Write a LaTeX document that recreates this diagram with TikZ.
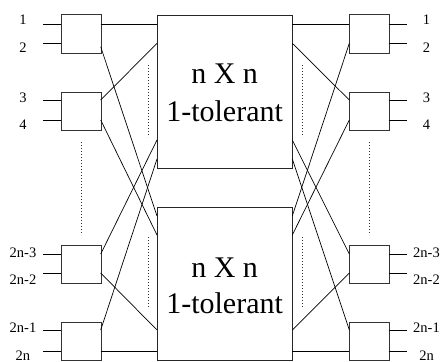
\documentclass[tikz,border=0pt]{standalone}
\usepackage{fontspec}
\setmainfont{Liberation Serif}
\begin{document}
\begin{tikzpicture}[x=1pt,y=-1pt,
  wire/.style={line width=0.7pt,black},
  sbox/.style={draw=black!80,line width=0.8pt,fill=white,minimum width=39.4pt,minimum height=38.4pt,inner sep=0pt,anchor=north west},
  bbox/.style={draw=black!85,line width=0.8pt,fill=white,minimum width=135.3pt,minimum height=153pt,inner sep=0pt,anchor=north west},
  dots/.style={line width=0.8pt,black!80,dash pattern=on 0.9pt off 2.1pt},
  lab/.style={font=\fontsize{14.5}{16}\selectfont,inner sep=0pt},
  big/.style={font=\fontsize{30}{34}\selectfont,inner sep=0pt}]
\useasboundingbox (0,0) rectangle (440,362);
% big boxes
\node[bbox] (T) at (157,15) {};
\node[bbox] (B) at (157,207) {};
\node[big] (t1) at (224.6,74) {n X n};
\node[big] (t2) at (224.6,111.7) {1-tolerant};
\node[big] (b1) at (224.6,267.5) {n X n};
\node[big] (b2) at (224.6,303) {1-tolerant};
% small boxes
\node[sbox] (L1) at (61.3,14.3) {};
\node[sbox] (L2) at (61.3,92) {};
\node[sbox] (L3) at (61.3,245) {};
\node[sbox] (L4) at (61.3,322) {};
\node[sbox] (R1) at (349.3,14.3) {};
\node[sbox] (R2) at (349.3,92) {};
\node[sbox] (R3) at (349.3,245) {};
\node[sbox] (R4) at (349.3,322) {};
% ports: left small boxes
\coordinate (L1i1) at (43,24.3);   \coordinate (L1w1) at (61.3,24.3);
\coordinate (L1i2) at (43,43.3);   \coordinate (L1w2) at (61.3,43.3);
\coordinate (L2i1) at (43,100);    \coordinate (L2w1) at (61.3,100);
\coordinate (L2i2) at (43,120);    \coordinate (L2w2) at (61.3,120);
\coordinate (L3i1) at (43,254);    \coordinate (L3w1) at (61.3,254);
\coordinate (L3i2) at (43,273);    \coordinate (L3w2) at (61.3,273);
\coordinate (L4i1) at (43,330);    \coordinate (L4w1) at (61.3,330);
\coordinate (L4i2) at (43,351);    \coordinate (L4w2) at (61.3,351);
\coordinate (L1o1) at (100.7,24.3); \coordinate (L1o2) at (100.7,46.7);
\coordinate (L2o1) at (100.7,100);  \coordinate (L2o2) at (100.7,120);
\coordinate (L3o1) at (100.7,254);  \coordinate (L3o2) at (100.7,273);
\coordinate (L4o1) at (100.7,330);  \coordinate (L4o2) at (100.7,351);
% ports: right small boxes
\coordinate (R1i1) at (349.3,24.3); \coordinate (R1i2) at (349.3,43.3);
\coordinate (R2i1) at (349.3,100);  \coordinate (R2i2) at (349.3,120);
\coordinate (R3i1) at (349.3,254);  \coordinate (R3i2) at (349.3,273);
\coordinate (R4i1) at (349.3,330);  \coordinate (R4i2) at (349.3,351);
\coordinate (R1w1) at (388.7,24.3); \coordinate (R1o1) at (407.3,24.3);
\coordinate (R1w2) at (388.7,43.3); \coordinate (R1o2) at (407.3,43.3);
\coordinate (R2w1) at (388.7,100);  \coordinate (R2o1) at (407.3,100);
\coordinate (R2w2) at (388.7,120);  \coordinate (R2o2) at (407.3,120);
\coordinate (R3w1) at (388.7,254);  \coordinate (R3o1) at (407.3,254);
\coordinate (R3w2) at (388.7,273);  \coordinate (R3o2) at (407.3,273);
\coordinate (R4w1) at (388.7,330);  \coordinate (R4o1) at (407.3,330);
\coordinate (R4w2) at (388.7,351);  \coordinate (R4o2) at (407.3,351);
% ports: big boxes
\coordinate (TL1) at (157,24.3);  \coordinate (TL2) at (157,43.3);
\coordinate (TL3) at (157,140);   \coordinate (TL4) at (157,159);
\coordinate (BL1) at (157,216);   \coordinate (BL2) at (157,235);
\coordinate (BL3) at (157,330);   \coordinate (BL4) at (157,351);
\coordinate (TR1) at (292.3,24.3); \coordinate (TR2) at (292.3,43.3);
\coordinate (TR3) at (292.3,140);  \coordinate (TR4) at (292.3,159);
\coordinate (BR1) at (292.3,216);  \coordinate (BR2) at (292.3,235);
\coordinate (BR3) at (292.3,330);  \coordinate (BR4) at (292.3,351);
% outer leads
\foreach \b in {1,2,3,4}{
  \draw[wire] (L\b i1) -- (L\b w1);
  \draw[wire] (L\b i2) -- (L\b w2);
  \draw[wire] (R\b w1) -- (R\b o1);
  \draw[wire] (R\b w2) -- (R\b o2);
}
% left interconnect
\draw[wire] (L1o1) -- (TL1);
\draw[wire] (L1o2) -- (BL1);
\draw[wire] (L2o1) -- (TL2);
\draw[wire] (L2o2) -- (BL2);
\draw[wire] (L3o1) -- (TL3);
\draw[wire] (L3o2) -- (BL3);
\draw[wire] (L4o1) -- (TL4);
\draw[wire] (L4o2) -- (BL4);
% right interconnect
\draw[wire] (TR1) -- (R1i1);
\draw[wire] (BR1) -- (R1i2);
\draw[wire] (TR2) -- (R2i1);
\draw[wire] (BR2) -- (R2i2);
\draw[wire] (TR3) -- (R3i1);
\draw[wire] (BR3) -- (R3i2);
\draw[wire] (TR4) -- (R4i1);
\draw[wire] (BR4) -- (R4i2);
% dotted lines
\coordinate (d1a) at (81,142);  \coordinate (d1b) at (81,235);
\coordinate (d2a) at (369,142); \coordinate (d2b) at (369,235);
\coordinate (d3a) at (148,65);  \coordinate (d3b) at (148,137);
\coordinate (d4a) at (148,237); \coordinate (d4b) at (148,308);
\coordinate (d5a) at (302,65);  \coordinate (d5b) at (302,137);
\coordinate (d6a) at (302,237); \coordinate (d6b) at (302,308);
\foreach \d in {1,...,6}{\draw[dots] (d\d a) -- (d\d b);}
% labels
\node[lab] (la1) at (23,20) {1};
\node[lab] (la2) at (23,48) {2};
\node[lab] (la3) at (23,97.5) {3};
\node[lab] (la4) at (23,125) {4};
\node[lab] (la5) at (23,253) {2n-3};
\node[lab] (la6) at (23,280) {2n-2};
\node[lab] (la7) at (23,328) {2n-1};
\node[lab] (la8) at (23,355.5) {2n};
\node[lab] (ra1) at (426.5,20) {1};
\node[lab] (ra2) at (426.5,48) {2};
\node[lab] (ra3) at (426.5,97.5) {3};
\node[lab] (ra4) at (426.5,125) {4};
\node[lab] (ra5) at (426.5,253) {2n-3};
\node[lab] (ra6) at (426.5,280) {2n-2};
\node[lab] (ra7) at (426.5,328) {2n-1};
\node[lab] (ra8) at (426.5,355.5) {2n};
\end{tikzpicture}
\end{document}
